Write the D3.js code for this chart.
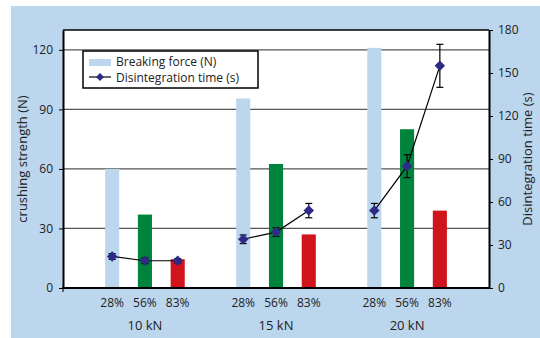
<!DOCTYPE html>
<html>
<head>
<meta charset="utf-8">
<script src="https://cdn.jsdelivr.net/npm/d3@7"></script>
<style>
  html, body { margin: 0; padding: 0; background: #fff; }
  svg { display: block; font-family: "Open Sans", "Noto Sans", sans-serif; }
</style>
</head>
<body>
<svg id="chart" width="540" height="338"></svg>
<script>
// Compression forces and moisture levels
const groups = ["10 kN", "15 kN", "20 kN"];
const levels = ["28%", "56%", "83%"];
const levelColors = ["#bcd6ee", "#00843d", "#d0141b"];

// Breaking force (N), by group then moisture level
const breakingForce = [
  [60, 37, 14.5],
  [95.5, 62.5, 27],
  [121, 80, 39]
];

// Disintegration time (s) and its error (±s)
const disintTime = [
  [22, 19, 19],
  [34, 39, 54],
  [54, 85, 155]
];
const disintErr = [
  [2, 2, 1.5],
  [3, 3, 5],
  [5, 8, 15]
];

const leftTicks = [0, 30, 60, 90, 120];
const rightTicks = [0, 30, 60, 90, 120, 150, 180];

const svg = d3.select("#chart");
const W = 540, H = 338;
const plot = { left: 63, right: 489, top: 30, bottom: 288 };

// backdrop panel
svg.append("rect").attr("x", 11).attr("y", 6).attr("width", W - 11).attr("height", H - 6)
  .attr("fill", "#bcd6ee");
svg.append("rect").attr("x", plot.left).attr("y", plot.top)
  .attr("width", plot.right - plot.left).attr("height", plot.bottom - plot.top)
  .attr("fill", "#fff");

// one slot per bar, with empty slots around each group
const slots = [];
groups.forEach((g, gi) => {
  slots.push("gap" + gi);
  levels.forEach(l => slots.push(g + "|" + l));
});
slots.push("gapEnd");

const x = d3.scaleBand().domain(slots).range([plot.left, plot.right]).paddingInner(0.57).paddingOuter(0.285);
const yL = d3.scaleLinear().domain([0, 130]).range([plot.bottom, plot.top]);
const yR = d3.scaleLinear().domain([0, 180]).range([plot.bottom, plot.top]);

const tickColor = "#222";

// horizontal gridlines
svg.append("g").selectAll("line").data(leftTicks.filter(t => t > 0)).join("line")
  .attr("x1", plot.left).attr("x2", plot.right)
  .attr("y1", d => yL(d)).attr("y2", d => yL(d))
  .attr("stroke", "#555").attr("stroke-width", 1.2);

// bars
const barData = [];
groups.forEach((g, gi) => levels.forEach((l, li) => {
  barData.push({ key: g + "|" + l, value: breakingForce[gi][li], color: levelColors[li] });
}));
svg.append("g").selectAll("rect").data(barData).join("rect")
  .attr("x", d => x(d.key)).attr("width", x.bandwidth())
  .attr("y", d => yL(d.value)).attr("height", d => yL(0) - yL(d.value))
  .attr("fill", d => d.color);

// frame: top edge
svg.append("line").attr("x1", plot.left).attr("x2", plot.right).attr("y1", plot.top).attr("y2", plot.top)
  .attr("stroke", "#000").attr("stroke-width", 1.5);

// left axis
const axL = svg.append("g").attr("transform", `translate(${plot.left},0)`)
  .call(d3.axisLeft(yL).tickValues(leftTicks).tickSize(4).tickSizeOuter(0));
axL.select(".domain").attr("stroke", "#000").attr("stroke-width", 2);

// right axis
const axR = svg.append("g").attr("transform", `translate(${plot.right},0)`)
  .call(d3.axisRight(yR).tickValues(rightTicks).tickSize(4).tickSizeOuter(0));
axR.select(".domain").attr("stroke", "#000").attr("stroke-width", 2);

[axL, axR].forEach(ax => {
  ax.selectAll(".tick line").attr("stroke", "#000");
  ax.selectAll(".tick text").attr("fill", tickColor).attr("font-size", 12)
    .attr("font-family", "Open Sans, Noto Sans, sans-serif");
});
axL.selectAll(".tick text").attr("x", -10);
axR.selectAll(".tick text").attr("x", 9);

// bottom edge
svg.append("line").attr("x1", plot.left - 1).attr("x2", plot.right + 1)
  .attr("y1", plot.bottom).attr("y2", plot.bottom)
  .attr("stroke", "#000").attr("stroke-width", 2);
svg.append("line").attr("x1", plot.left).attr("x2", plot.left)
  .attr("y1", plot.bottom).attr("y2", plot.bottom + 4).attr("stroke", "#000");

// category labels
svg.append("g").selectAll("text").data(barData).join("text")
  .attr("x", d => x(d.key) + x.bandwidth() / 2).attr("y", 307)
  .attr("text-anchor", "middle").attr("font-size", 12).attr("fill", tickColor)
  .text(d => d.key.split("|")[1]);
svg.append("g").selectAll("text").data(groups).join("text")
  .attr("x", g => x(g + "|" + levels[1]) + x.bandwidth() / 2).attr("y", 330)
  .attr("text-anchor", "middle").attr("font-size", 13).attr("fill", tickColor)
  .text(g => g);

// axis titles
const midY = (plot.top + plot.bottom) / 2;
svg.append("text").attr("transform", `translate(27,${midY}) rotate(-90)`)
  .attr("text-anchor", "middle").attr("font-size", 13).attr("fill", tickColor)
  .text("crushing strength (N)");
svg.append("text").attr("transform", `translate(532,${midY}) rotate(-90)`)
  .attr("text-anchor", "middle").attr("font-size", 13).attr("fill", tickColor)
  .text("Disintegration time (s)");

// disintegration time: one connected segment per compression force, with error bars
const navy = "#2e2a85";
const ptsByGroup = groups.map((g, gi) => levels.map((l, li) => ({
  key: g + "|" + l, v: disintTime[gi][li], e: disintErr[gi][li]
})));
const pts = ptsByGroup.flat();
const cx = d => x(d.key) + x.bandwidth() / 2;

svg.append("g").selectAll("path").data(ptsByGroup).join("path")
  .attr("d", d3.line().x(cx).y(d => yR(d.v)))
  .attr("fill", "none").attr("stroke", "#000").attr("stroke-width", 1.2);

const eb = svg.append("g").attr("stroke", "#000").attr("stroke-width", 1.2);
pts.forEach(d => {
  const c = cx(d), t = yR(d.v + d.e), b = yR(d.v - d.e);
  eb.append("line").attr("x1", c).attr("x2", c).attr("y1", t).attr("y2", b);
  eb.append("line").attr("x1", c - 3.5).attr("x2", c + 3.5).attr("y1", t).attr("y2", t);
  eb.append("line").attr("x1", c - 3.5).attr("x2", c + 3.5).attr("y1", b).attr("y2", b);
});

const diamond = d3.symbol().type(d3.symbolDiamond2).size(70);
svg.append("g").selectAll("path").data(pts).join("path")
  .attr("transform", d => `translate(${cx(d)},${yR(d.v)})`)
  .attr("d", diamond).attr("fill", navy);

// legend
const lg = svg.append("g").attr("transform", "translate(83,51)");
lg.append("rect").attr("width", 175).attr("height", 37)
  .attr("fill", "#fff").attr("stroke", "#000").attr("stroke-width", 1.5);
lg.append("rect").attr("x", 6).attr("y", 8).attr("width", 22).attr("height", 7).attr("fill", levelColors[0]);
lg.append("text").attr("x", 33).attr("y", 15).attr("font-size", 12).attr("fill", tickColor)
  .text("Breaking force (N)");
lg.append("line").attr("x1", 6).attr("x2", 28).attr("y1", 26).attr("y2", 26)
  .attr("stroke", "#000").attr("stroke-width", 1.2);
lg.append("path").attr("transform", "translate(17,26)")
  .attr("d", d3.symbol().type(d3.symbolDiamond2).size(40)).attr("fill", navy);
lg.append("text").attr("x", 33).attr("y", 31).attr("font-size", 12).attr("fill", tickColor)
  .text("Disintegration time (s)");
</script>
</body>
</html>
